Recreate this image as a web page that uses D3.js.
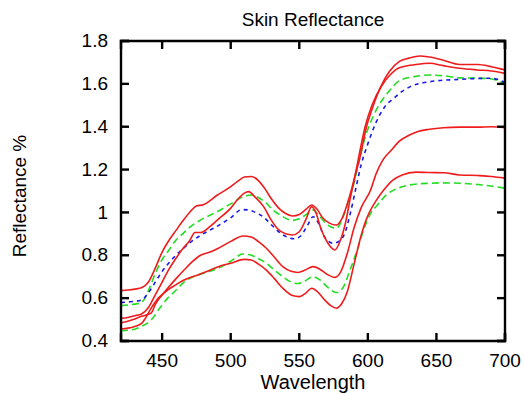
<!DOCTYPE html>
<html>
<head>
<meta charset="utf-8">
<script src="https://cdn.jsdelivr.net/npm/d3@7"></script>
<style>
  body { margin: 0; background: #fff; }
  text { font-family: "Liberation Sans", Arial, sans-serif; fill: #000; }
</style>
</head>
<body>
<svg id="canvas" width="524" height="394"></svg>
<script>
// values, [wavelength, reflectance]
let redTop = [[420,0.635],[425,0.638],[430,0.642],[435,0.648],[440,0.675],[445,0.74],[450,0.815],[455,0.87],[460,0.915],[465,0.96],[470,1.0],[475,1.03],[480,1.036],[490,1.08],[500,1.12],[505,1.145],[510,1.165],[515,1.168],[520,1.15],[525,1.11],[530,1.06],[535,1.02],[540,0.995],[545,0.983],[550,0.99],[555,1.015],[559,1.035],[563,1.015],[567,0.975],[572,0.95],[577,0.941],[581,0.97],[585,1.04],[588,1.105],[591,1.18],[594,1.25],[599,1.40],[603,1.48],[607,1.55],[612,1.62],[616,1.66],[623,1.705],[630,1.72],[638,1.73],[645,1.725],[655,1.71],[667,1.69],[680,1.69],[690,1.68],[700,1.665]]
let redSecond = [[420,0.506],[425,0.51],[430,0.518],[435,0.526],[440,0.556],[445,0.615],[450,0.675],[455,0.735],[460,0.785],[465,0.83],[470,0.868],[474,0.906],[478,0.906],[485,0.935],[490,0.963],[500,1.02],[505,1.06],[510,1.09],[513,1.097],[518,1.07],[524,1.027],[529,0.97],[534,0.925],[540,0.9],[545,0.895],[550,0.91],[555,0.97],[559,1.027],[562,1.0],[566,0.92],[571,0.855],[576,0.825],[580,0.87],[584,0.96],[587,1.06],[590,1.15],[594,1.28],[598,1.40],[603,1.50],[610,1.59],[616,1.64],[623,1.675],[635,1.69],[645,1.696],[655,1.685],[667,1.673],[680,1.665],[690,1.66],[700,1.649]]
let greenUpper = [[420,0.565],[425,0.568],[430,0.572],[435,0.58],[440,0.635],[445,0.715],[450,0.78],[455,0.825],[460,0.87],[465,0.9],[470,0.93],[478,0.965],[490,1.003],[500,1.04],[510,1.075],[515,1.081],[520,1.07],[526,1.043],[531,1.01],[536,0.988],[545,0.963],[550,0.97],[555,0.99],[560,1.011],[565,0.98],[570,0.945],[577,0.926],[582,0.98],[586,1.058],[590,1.14],[594,1.25],[598,1.35],[604,1.45],[610,1.52],[616,1.57],[623,1.615],[635,1.635],[645,1.641],[655,1.638],[667,1.628],[680,1.627],[689,1.624],[700,1.60]]
let blueMean = [[420,0.579],[425,0.582],[430,0.585],[435,0.591],[440,0.625],[445,0.675],[450,0.725],[455,0.765],[460,0.8],[465,0.83],[470,0.858],[478,0.893],[490,0.935],[500,0.975],[508,1.013],[512,1.012],[518,1.0],[524,0.978],[530,0.94],[536,0.905],[541,0.885],[546,0.877],[551,0.89],[556,0.94],[560,0.98],[564,0.95],[568,0.89],[572,0.862],[575,0.856],[580,0.87],[583,0.9],[587,0.99],[591,1.105],[595,1.22],[600,1.32],[606,1.42],[612,1.49],[619,1.533],[625,1.565],[631,1.587],[645,1.61],[667,1.621],[689,1.626],[695,1.62],[700,1.605]]
let redMid = [[420,0.485],[425,0.492],[430,0.503],[435,0.515],[440,0.525],[442,0.53],[445,0.57],[447,0.591],[450,0.615],[454,0.646],[460,0.69],[466,0.731],[472,0.77],[478,0.8],[485,0.815],[491,0.833],[500,0.865],[509,0.89],[515,0.885],[520,0.865],[526,0.833],[532,0.79],[538,0.747],[544,0.725],[549,0.72],[554,0.73],[560,0.747],[565,0.735],[570,0.712],[576,0.697],[580,0.72],[585,0.809],[590,0.93],[595,1.02],[602,1.105],[606,1.18],[611,1.245],[617,1.29],[623,1.333],[630,1.36],[636,1.377],[645,1.388],[655,1.395],[667,1.398],[680,1.398],[690,1.40],[700,1.395]]
let redLow = [[420,0.456],[425,0.46],[430,0.468],[435,0.482],[437,0.498],[440,0.53],[442,0.553],[445,0.582],[447,0.599],[450,0.617],[454,0.638],[460,0.662],[466,0.685],[471,0.698],[476,0.708],[483,0.725],[491,0.747],[500,0.763],[510,0.781],[515,0.778],[520,0.76],[526,0.731],[532,0.69],[538,0.646],[545,0.612],[550,0.607],[555,0.625],[559,0.646],[563,0.632],[568,0.595],[573,0.565],[577,0.553],[581,0.575],[585,0.63],[590,0.76],[595,0.89],[600,0.985],[605,1.045],[611,1.1],[618,1.15],[625,1.175],[635,1.188],[645,1.186],[655,1.185],[667,1.175],[680,1.172],[690,1.168],[700,1.16]]
let greenLower = [[420,0.447],[425,0.45],[430,0.455],[435,0.468],[442,0.498],[449,0.56],[454,0.6],[459,0.63],[466,0.675],[476,0.708],[483,0.722],[491,0.74],[500,0.772],[509,0.806],[515,0.8],[520,0.785],[526,0.763],[532,0.73],[538,0.70],[544,0.675],[549,0.668],[554,0.68],[560,0.70],[565,0.685],[570,0.655],[577,0.626],[582,0.65],[587,0.731],[592,0.82],[597,0.92],[602,0.995],[607,1.035],[614,1.085],[620,1.108],[628,1.125],[636,1.133],[645,1.136],[655,1.138],[667,1.136],[680,1.13],[690,1.123],[700,1.113]]

let xTicks = [450, 500, 550, 600, 650, 700]
let yTicks = [0.4, 0.6, 0.8, 1.0, 1.2, 1.4, 1.6, 1.8]

let series = [
  { values: greenLower, color: '#22dd22', dash: '7,4' },
  { values: greenUpper, color: '#22dd22', dash: '7,4' },
  { values: blueMean, color: '#1818e8', dash: '4,4' },
  { values: redLow, color: '#ee1c1c', dash: null },
  { values: redMid, color: '#ee1c1c', dash: null },
  { values: redSecond, color: '#ee1c1c', dash: null },
  { values: redTop, color: '#ee1c1c', dash: null }
]

let canvas = d3.select('#canvas')
let plotLeft = 121, plotRight = 505, plotTop = 41, plotBottom = 341

let xScale = d3.scaleLinear().domain([420, 700]).range([plotLeft, plotRight])
let yScale = d3.scaleLinear().domain([0.4, 1.8]).range([plotBottom, plotTop])

canvas.append('clipPath').attr('id', 'plotClip')
  .append('rect')
  .attr('x', plotLeft).attr('y', plotTop)
  .attr('width', plotRight - plotLeft).attr('height', plotBottom - plotTop)

let line = d3.line()
  .x(d => xScale(d[0]))
  .y(d => yScale(d[1]))
  .curve(d3.curveMonotoneX)

canvas.append('g').attr('clip-path', 'url(#plotClip)')
  .selectAll('path')
  .data(series)
  .enter()
  .append('path')
  .attr('d', d => line(d.values))
  .attr('fill', 'none')
  .attr('stroke', d => d.color)
  .attr('stroke-width', 1.6)
  .attr('stroke-dasharray', d => d.dash)

// axes with inward ticks on all four sides
let tickLen = 8
let xBottom = d3.axisBottom(xScale).tickValues(xTicks).tickSize(-tickLen).tickPadding(13).offset(0)
let xTop = d3.axisTop(xScale).tickValues(xTicks).tickSize(-tickLen).tickFormat('').offset(0)
let yLeft = d3.axisLeft(yScale).tickValues(yTicks).tickSize(-tickLen).tickPadding(13).tickFormat(d3.format('~g')).offset(0)
let yRight = d3.axisRight(yScale).tickValues(yTicks).tickSize(-tickLen).tickFormat('').offset(0)

let styleAxis = g => {
  g.selectAll('path').attr('stroke', '#000').attr('stroke-width', 2.4)
  g.selectAll('line').attr('stroke', '#000').attr('stroke-width', 2.4)
  g.selectAll('text').attr('font-size', 19)
    .attr('font-family', '"Liberation Sans", Arial, sans-serif')
}

canvas.append('g').attr('transform', `translate(0,${plotBottom})`).call(xBottom).call(styleAxis)
canvas.append('g').attr('transform', `translate(0,${plotTop})`).call(xTop).call(styleAxis)
canvas.append('g').attr('transform', `translate(${plotLeft},0)`).call(yLeft).call(styleAxis)
canvas.append('g').attr('transform', `translate(${plotRight},0)`).call(yRight).call(styleAxis)

canvas.append('text')
  .attr('x', (plotLeft + plotRight) / 2).attr('y', 26)
  .attr('text-anchor', 'middle').attr('font-size', 19)
  .text('Skin Reflectance')

canvas.append('text')
  .attr('x', (plotLeft + plotRight) / 2).attr('y', 389)
  .attr('text-anchor', 'middle').attr('font-size', 20)
  .text('Wavelength')

canvas.append('text')
  .attr('transform', `translate(26,196) rotate(-90)`)
  .attr('text-anchor', 'middle').attr('font-size', 19)
  .text('Reflectance %')
</script>
</body>
</html>
